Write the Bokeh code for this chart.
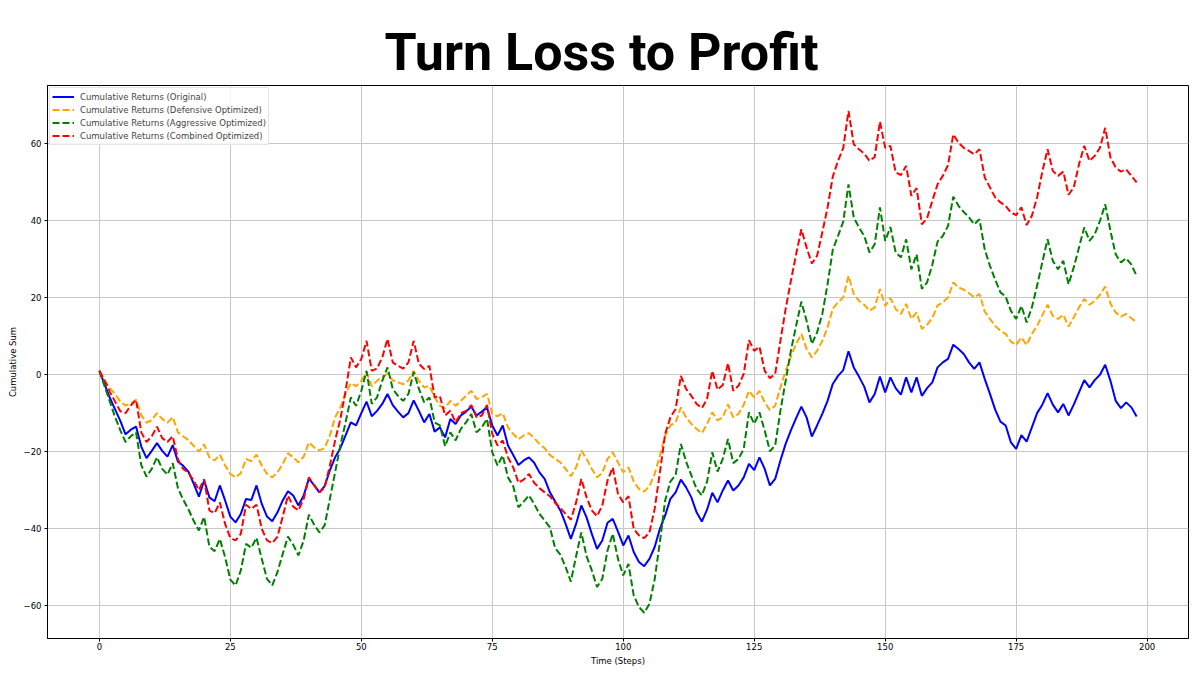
from bokeh.plotting import figure
from bokeh.embed import file_html
from bokeh.resources import INLINE
from bokeh.models import FixedTicker, CustomJSTickFormatter, Range1d

TITLE = "Turn Loss to Profit"
X_LABEL = "Time (Steps)"
Y_LABEL = "Cumulative Sum"
X_TICKS = [0, 25, 50, 75, 100, 125, 150, 175, 200]
Y_TICKS = [-60, -40, -20, 0, 20, 40, 60]

steps = list(range(199))

original = [
    1.0, -2.5, -6, -9, -12, -15.5, -14.3, -13.5, -18.7, -21.7,
    -19.8, -17.8, -19.8, -21.3, -18.3, -22.6, -23.7, -25.2, -28.3, -31.7,
    -27.5, -31.9, -32.9, -28.8, -32.7, -36.9, -38.4, -36.2, -32.3, -32.6,
    -28.8, -33.6, -36.9, -38.1, -35.8, -32.7, -30.3, -31.4, -34, -31.4,
    -27, -28.7, -30.6, -29, -24.9, -21.5, -19.1, -15.8, -12.4, -13.2,
    -10, -7, -10.8, -9.4, -7.6, -5, -7.9, -9.6, -11.1, -10,
    -6.7, -9.4, -12.4, -10.2, -14.8, -13.7, -16.3, -11.5, -12.8, -10.6,
    -9.6, -8.3, -10.6, -9.6, -8.5, -13.2, -15.8, -13.2, -18.4, -20.9,
    -23.5, -22.3, -21.5, -22.9, -25.4, -27.1, -30.6, -33, -35.3, -38.8,
    -42.7, -38.8, -34, -37.1, -41.4, -45.3, -43.1, -38.5, -37.5, -40.8,
    -44.4, -41.8, -46.1, -48.7, -49.8, -47.9, -44.8, -40.1, -36.6, -32.3,
    -30.6, -27.3, -29.3, -31.9, -35.8, -38.2, -35.1, -30.7, -33.2, -30.1,
    -27.5, -30.1, -28.8, -26.7, -23.2, -24.8, -21.5, -24.5, -28.8, -27.1,
    -22.3, -18, -14.5, -11.3, -8.3, -11.1, -16.1, -13.2, -10.2, -6.8,
    -2.4, -0.3, 1.2, 6.1, 1.9, -0.5, -3.1, -7.2, -5, -0.5,
    -4.6, -0.7, -3.5, -5.2, -0.7, -4.6, -0.7, -5.5, -3.5, -2,
    1.9, 3.2, 4.1, 7.8, 6.7, 5.4, 3.2, 1.5, 3.2, -1.1,
    -5, -9.1, -12.2, -13.2, -17.6, -19.3, -15.7, -17.4, -13.7, -10,
    -7.8, -4.8, -7.8, -9.8, -7.6, -10.6, -7.8, -4.6, -1.4, -3.3,
    -1.4, 0, 2.6, -1.6, -6.8, -8.7, -7.2, -8.5, -10.9,
]

defensive = [
    1, -1.5, -3.5, -5, -7, -8, -7.5, -6.5, -10.5, -12.5,
    -11.8, -10, -11.5, -12.5, -11, -15, -16, -17, -18.5, -20,
    -18.1, -21.5, -22.3, -20.8, -23.6, -25.8, -26.7, -25.6, -21.9, -22.5,
    -20.8, -23.6, -25.8, -26.7, -25.4, -23.2, -20.4, -21.5, -22.8, -21.3,
    -17.6, -18.9, -19.7, -19.1, -15.8, -11.1, -8.5, -5, -2.2, -3,
    -1.6, 0.6, -3, -1.6, -0.5, 0.2, -1.5, -2, -2.5, -1.5,
    1, -1.6, -3.3, -2.9, -5.9, -8.1, -8.7, -6.8, -8.1, -6.8,
    -5.5, -4.2, -6.3, -5.9, -5, -10.2, -10.8, -10, -13.7, -15.4,
    -16.8, -15.8, -15.2, -16.5, -18, -19.1, -20.9, -21.9, -22.8, -24.5,
    -26.4, -24.1, -19.7, -21.9, -24.5, -26.7, -25.5, -21.9, -20.2, -22.8,
    -25.4, -24.1, -27.8, -29.7, -30.4, -29, -25.8, -21, -15.8, -13.2,
    -12.4, -8.5, -11.1, -12.8, -14.1, -15.2, -12.8, -9.8, -11.9, -11.1,
    -7.7, -11.1, -10.2, -7.8, -4.2, -5.9, -4.2, -7.2, -9.2, -8.1,
    -3.3, 1, 4.7, 8, 10.6, 6.7, 4.5, 6.2, 8.8, 12.3,
    17.2, 18.8, 20.1, 25.7, 21, 19.2, 18.2, 16.6, 17.5, 22.3,
    17.9, 19.9, 17.1, 15.8, 18.4, 14.5, 16.2, 11.9, 13, 14.7,
    18, 18.8, 20.1, 24, 22.7, 22.1, 21.2, 20.1, 21, 16.4,
    14.5, 12.7, 11.4, 10.6, 8.6, 7.7, 9.7, 7.7, 10.6, 12.7,
    15.5, 18.2, 15.3, 14.5, 15.6, 12.5, 14.9, 17.5, 19.7, 18.2,
    19.2, 20.8, 22.9, 18.5, 16.2, 15.1, 15.8, 14.7, 13.6,
]

aggressive = [
    1, -3, -7, -11, -14.5, -17.5, -16, -15, -23.5, -26.5,
    -24.5, -21.5, -24.5, -26, -23, -29.5, -32.5, -35, -38, -40.5,
    -37, -44.7, -45.9, -42.7, -47.4, -53.3, -54.8, -50.9, -44, -45,
    -42.4, -47.9, -53.1, -54.8, -51.3, -46.6, -42.1, -44.2, -47, -43.1,
    -36.4, -39, -41, -39.2, -32.3, -25.4, -18.4, -12.4, -5.9, -8.1,
    -4.2, 1, -7.6, -5.9, -1.6, 1.9, -3.7, -5.5, -6.8, -5,
    0.7, -3.7, -7.2, -5.9, -12.4, -13.2, -18.6, -15, -17.1, -14.1,
    -12.4, -10.2, -15, -13.7, -11.5, -20.2, -23.6, -21, -26.7, -29,
    -34.5, -33, -31.4, -33.6, -36.2, -37.9, -39.7, -45.1, -46.8, -50,
    -53.8, -47.2, -41, -47.2, -50.9, -55.2, -53.1, -45.7, -41.4, -47.9,
    -52.2, -49.2, -57.4, -60.4, -61.9, -59.6, -53.2, -43.5, -32.7, -27.8,
    -26.1, -18, -22.6, -26.2, -29.7, -31.4, -27.8, -20.2, -25.2, -21.9,
    -16.7, -23, -21.9, -19.3, -9.8, -12.8, -9.8, -14.5, -19.9, -18.4,
    -9.4, -1.6, 6.2, 12.7, 19, 14, 8, 11, 15.8, 23.5,
    32.5, 36.1, 39.8, 49.5, 40.9, 38.3, 36.1, 31.8, 33.9, 43.5,
    34.8, 38.4, 31.8, 30.5, 35.2, 27.4, 31.3, 22.3, 24, 28.6,
    34.6, 36.1, 38.7, 46.3, 43.9, 42.3, 40.9, 39.1, 40.4, 32.6,
    28.3, 24.7, 21.4, 20.3, 16.6, 14.5, 17.9, 13.6, 17.5, 23.1,
    29.3, 35.2, 29.6, 27.4, 29.6, 23.5, 27.9, 33.1, 38.3, 34.8,
    36.5, 40, 44.3, 37.4, 31.3, 29.2, 30.3, 28.6, 25.7,
]

combined = [
    1, -1.5, -4.5, -7, -9.5, -10, -8, -6.5, -15, -17.5,
    -16, -13.5, -16.5, -17.5, -16, -22, -24.5, -25.5, -27.5, -30,
    -27.2, -35.3, -36, -33.2, -38.8, -42.4, -43.1, -41.4, -33.8, -34.9,
    -33.8, -40.1, -43.1, -43.8, -42.1, -36.9, -31.4, -34.3, -35.3, -32.3,
    -26.7, -28.8, -30.6, -29.3, -23.6, -17.1, -11.5, -4.2, 4.5, 1.9,
    4.1, 8.8, 1, 1.6, 4.5, 9.3, 3.2, 2.3, 1.6, 3.2,
    8.8, 2.8, 1.5, 2.3, -5.9, -5.6, -10.6, -9.4, -12.4, -10,
    -9.4, -7.9, -11.1, -10.6, -7.9, -15.4, -18.4, -17.1, -21.5, -24.1,
    -28.1, -27.3, -25.8, -28.1, -29.5, -30.6, -31.6, -33.3, -34.7, -36.2,
    -37.7, -33.2, -27.1, -31.9, -35.3, -36.8, -34, -27.5, -24.1, -31,
    -33.2, -31.6, -40.1, -41.8, -42.5, -41, -34.9, -25.4, -15.4, -11.1,
    -8.9, -0.3, -3.7, -5.5, -7.6, -8.7, -6.3, 1, -3.9, -2.7,
    3, -4.2, -2.9, 0.2, 9, 6.2, 7.3, 1, -0.9, 0.2,
    8.8, 17.1, 24.4, 31.3, 37.8, 33.1, 28.9, 30.9, 37, 43.5,
    51.5, 55.6, 59, 68.6, 59.9, 58.6, 57.5, 55.6, 56.6, 65.8,
    59, 59.5, 52.6, 51.9, 54.3, 46.5, 48.5, 39.1, 40.7, 45.2,
    49.5, 51.7, 54.5, 62.5, 60.3, 59, 58.2, 57.3, 58.6, 51.3,
    48.7, 46.1, 44.8, 43.9, 42.2, 41.5, 43.5, 38.9, 41.3, 46.1,
    52.8, 58.6, 53, 51.7, 52.8, 46.8, 48.7, 54.7, 59.5, 55.6,
    56.9, 59, 64.2, 56.5, 53.9, 52.8, 53.4, 51.7, 50,
]

SERIES = [
    ("Cumulative Returns (Original)", original, "blue", "solid"),
    ("Cumulative Returns (Defensive Optimized)", defensive, "orange", "7 3"),
    ("Cumulative Returns (Aggressive Optimized)", aggressive, "green", "7 3"),
    ("Cumulative Returns (Combined Optimized)", combined, "red", "7 3"),
]

FONT = "DejaVu Sans"

p = figure(
    width=1200, height=675,
    output_backend="svg", toolbar_location=None,
    x_range=Range1d(-9.9, 207.9), y_range=Range1d(-68.6, 75.2),
    min_border_left=47, min_border_right=12, min_border_top=85, min_border_bottom=37,
)
p.background_fill_color = "white"
p.border_fill_color = "white"
p.outline_line_color = "black"
p.outline_line_width = 1

p.title.text = TITLE
p.title.align = "left"
p.title.offset = 337
p.title.text_font = "Roboto"
p.title.text_font_size = "52px"
p.title.text_font_style = "bold"
p.title.text_color = "black"
p.title.standoff = 6

for label, ys, color, dash in SERIES:
    p.line(steps, ys, line_color=color, line_width=2, line_dash=dash, legend_label=label)

minus_fmt = CustomJSTickFormatter(code="return tick < 0 ? '\\u2212' + Math.abs(tick) : String(tick);")

p.xaxis.ticker = FixedTicker(ticks=X_TICKS)
p.yaxis.ticker = FixedTicker(ticks=Y_TICKS)
p.yaxis.formatter = minus_fmt
for ax in (p.xaxis, p.yaxis):
    ax.major_tick_out = 3
    ax.major_tick_in = 0
    ax.minor_tick_out = 0
    ax.minor_tick_in = 0
    ax.major_label_text_font = FONT
    ax.major_label_text_font_size = "8.5px"
    ax.major_label_text_color = "black"
    ax.axis_label_text_font = FONT
    ax.axis_label_text_font_size = "8.5px"
    ax.axis_label_text_font_style = "normal"
    ax.axis_label_text_color = "black"
    ax.axis_line_color = "black"
    ax.major_tick_line_color = "black"
p.xaxis.major_label_standoff = 1
p.xaxis.axis_label_standoff = 3
p.yaxis.major_label_standoff = 3
p.yaxis.axis_label_standoff = 3
p.xaxis.axis_label = X_LABEL
p.yaxis.axis_label = Y_LABEL

p.grid.grid_line_color = "#c8c8c8"
p.grid.grid_line_width = 1

lg = p.legend[0]
lg.location = "top_left"
lg.margin = 2
lg.padding = 2
lg.spacing = 0
lg.label_height = 13
lg.glyph_height = 13
lg.glyph_width = 22
lg.label_standoff = 6
lg.label_text_font = FONT
lg.label_text_font_size = "8.5px"
lg.border_line_color = "#cccccc"
lg.border_line_width = 1
lg.background_fill_alpha = 0.8

open("out.html", "w").write(file_html(p, INLINE))
